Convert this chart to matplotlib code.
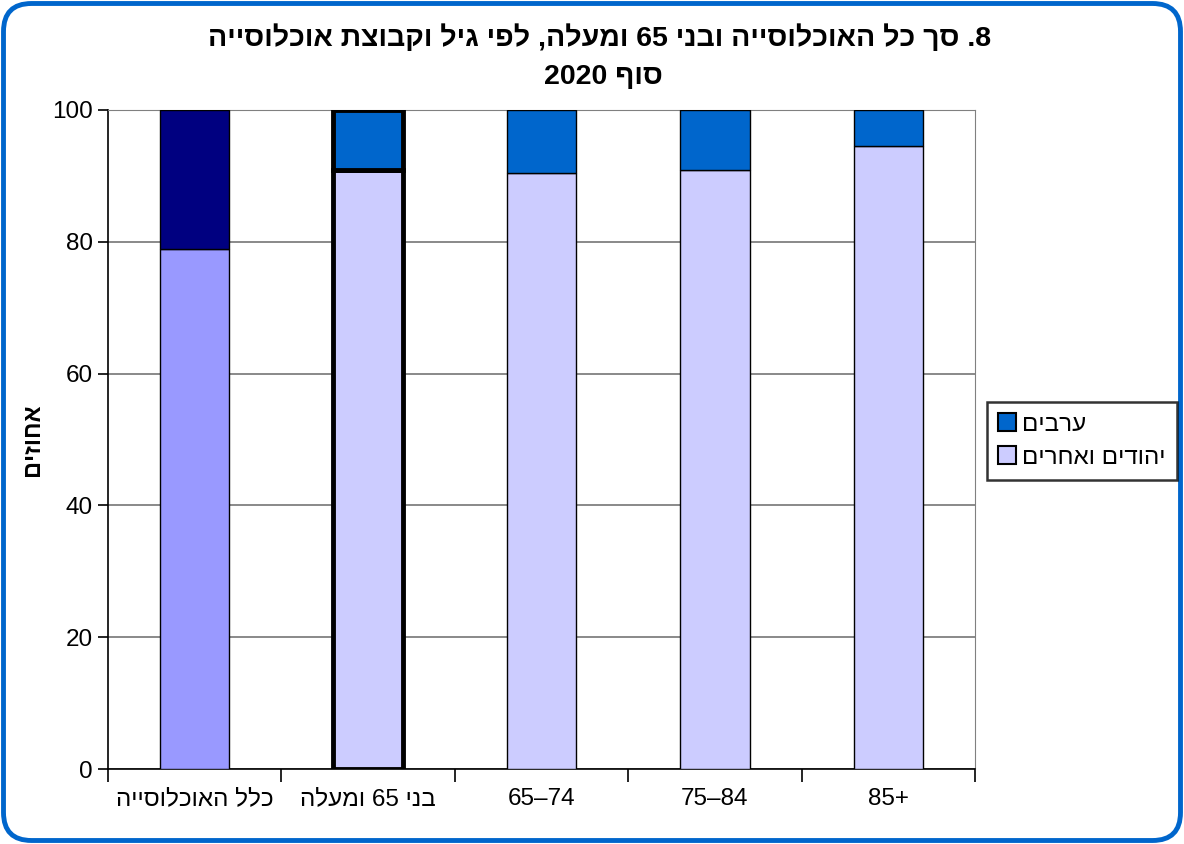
import re
import matplotlib
matplotlib.use('Agg')
import matplotlib.pyplot as plt
from matplotlib.patches import FancyBboxPatch, Patch

plt.rcParams['font.family'] = ['Liberation Sans', 'DejaVu Sans']

categories = ['כלל האוכלוסייה', 'בני 65 ומעלה', '65–74', '75–84', '85+']
jews_others = [78.9, 90.9, 90.4, 90.9, 94.5]
arabs = [21.1, 9.1, 9.6, 9.1, 5.5]

title_text = '8. סך כל האוכלוסייה ובני 65 ומעלה, לפי גיל וקבוצת אוכלוסייה'
subtitle_text = 'סוף 2020'
ylabel_text = 'אחוזים'
legend_labels = ['ערבים', 'יהודים ואחרים']


def vis(s):
    # matplotlib draws left to right, so put Hebrew in visual order
    if not re.search('[\u0590-\u05FF]', s):
        return s
    r = s[::-1]
    return re.sub(r'\d+', lambda m: m.group(0)[::-1], r)


fig = plt.figure(figsize=(11.84, 8.44), dpi=100)
ax = fig.add_axes([108 / 1184, 1 - 769 / 844, 867 / 1184, 659 / 844])

x = list(range(len(categories)))
width = 0.40

lower_colors = ['#9999FF'] + ['#CCCCFF'] * 4
upper_colors = ['#000080'] + ['#0066CC'] * 4
edge_widths = [1.0, 3.5, 1.0, 1.0, 1.0]

for i in x:
    ax.bar(i, jews_others[i], width, color=lower_colors[i], edgecolor='black',
           linewidth=edge_widths[i], zorder=3)
    ax.bar(i, arabs[i], width, bottom=jews_others[i], color=upper_colors[i],
           edgecolor='black', linewidth=edge_widths[i], zorder=3)

ax.set_xlim(-0.5, len(categories) - 0.5)
ax.set_ylim(0, 100)
ax.set_yticks([0, 20, 40, 60, 80, 100])
ax.yaxis.grid(True, color='#808080', linewidth=1.3, zorder=0)

ax.set_xticks([i - 0.5 for i in range(len(categories) + 1)])
ax.set_xticklabels([])
ax.set_xticks(x, minor=True)
ax.set_xticklabels([vis(c) for c in categories], minor=True, fontsize=17.5)
ax.tick_params(axis='x', which='major', direction='out', length=9, width=1.2)
ax.tick_params(axis='x', which='minor', length=0, pad=14)
ax.tick_params(axis='y', direction='out', length=7, width=1.2, labelsize=17.5, pad=4)

ax.spines['left'].set_color('black')
ax.spines['bottom'].set_color('black')
ax.spines['left'].set_linewidth(1.2)
ax.spines['bottom'].set_linewidth(1.2)
ax.spines['top'].set_color('#808080')
ax.spines['right'].set_color('#808080')

ax.set_ylabel(vis(ylabel_text), fontsize=17, fontweight='bold', labelpad=6)

fig.text(600 / 1184, 1 - 38 / 844, vis(title_text), ha='center', va='center',
         fontsize=20.5, fontweight='bold')
fig.text(603 / 1184, 1 - 77 / 844, vis(subtitle_text), ha='center', va='center',
         fontsize=20.5, fontweight='bold')

handles = [Patch(facecolor='#0066CC', edgecolor='black', linewidth=1.5),
           Patch(facecolor='#CCCCFF', edgecolor='black', linewidth=1.5)]
leg = fig.legend(handles, [vis(l) for l in legend_labels],
                 loc='center left', bbox_to_anchor=(987 / 1184, 1 - 441 / 844),
                 fontsize=17.5, frameon=True, fancybox=False, edgecolor='black',
                 handlelength=0.75, handleheight=0.75, handletextpad=0.25,
                 borderpad=0.45, labelspacing=0.45, borderaxespad=0)
leg.get_frame().set_linewidth(1.8)

border = FancyBboxPatch((0.035, 0.035), 11.84 - 0.07, 8.44 - 0.07,
                        boxstyle='round,pad=0,rounding_size=0.28',
                        transform=fig.dpi_scale_trans, facecolor='none',
                        edgecolor='#0066CC', linewidth=3.5)
fig.patches.append(border)

fig.savefig('out.png', dpi=100)
